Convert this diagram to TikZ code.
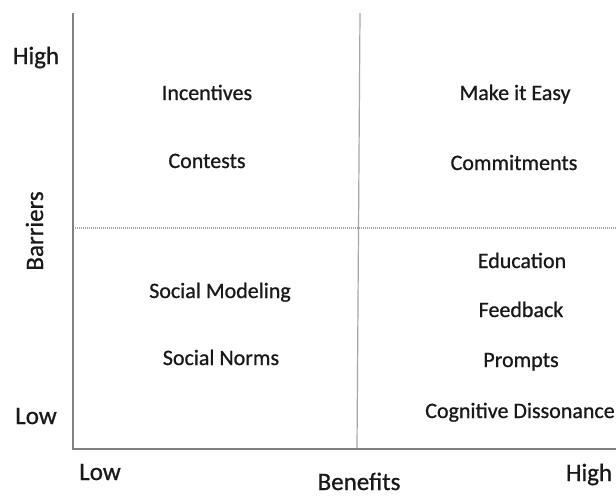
\documentclass[tikz,border=0pt]{standalone}
\usepackage{fontspec}
\setmainfont{Carlito}
\newfontfamily\heavyfont[FakeBold=0.8]{Carlito}
\begin{document}
\begin{tikzpicture}[x=1pt,y=-1pt,
  axis/.style={draw=black!50,line width=2pt},
  divider/.style={draw=black!35,line width=1.2pt},
  dotdiv/.style={draw=black!35,line width=1.6pt,dash pattern=on 1pt off 1pt},
  item/.style={anchor=base,inner sep=0pt,font=\heavyfont\fontsize{22}{26}\selectfont,text=black!90},
  axlabel/.style={anchor=base,inner sep=0pt,font=\heavyfont\fontsize{25}{30}\selectfont,text=black!90}]
\useasboundingbox (0,0) rectangle (616,496);
\fill[white] (0,0) rectangle (616,496);
% axes
\coordinate (top) at (73,13);
\coordinate (origin) at (73,449);
\coordinate (right) at (616,449);
\coordinate (midtop) at (360,13);
\coordinate (midbot) at (357,449);
\coordinate (hl) at (73,228);
\coordinate (hr) at (616,228);
\draw[divider] (midtop) -- (midbot);
\draw[dotdiv] (hl) -- (hr);
\draw[axis] (top) -- (origin) -- (right);
% axis labels
\node[axlabel] (yhigh) at (36,64) {High};
\node[axlabel] (ylow) at (36,424) {Low};
\node[axlabel,rotate=90,anchor=base] (barriers) at (43,231) {Barriers};
\node[axlabel] (xlow) at (100,480) {Low};
\node[axlabel] (benefits) at (359,490) {Benefits};
\node[axlabel] (xhigh) at (589,481) {High};
% quadrant items
\node[item] (incentives) at (207,100) {Incentives};
\node[item] (contests) at (207,168) {Contests};
\node[item] (makeeasy) at (515,100) {Make it Easy};
\node[item] (commit) at (514,170) {Commitments};
\node[item] (socmod) at (220,298) {Social Modeling};
\node[item] (socnorm) at (221,365) {Social Norms};
\node[item] (educ) at (522,268) {Education};
\node[item] (feedback) at (521,317) {Feedback};
\node[item] (prompts) at (521,367) {Prompts};
\node[item] (cogdis) at (520,418) {Cognitive Dissonance};
\end{tikzpicture}
\end{document}
